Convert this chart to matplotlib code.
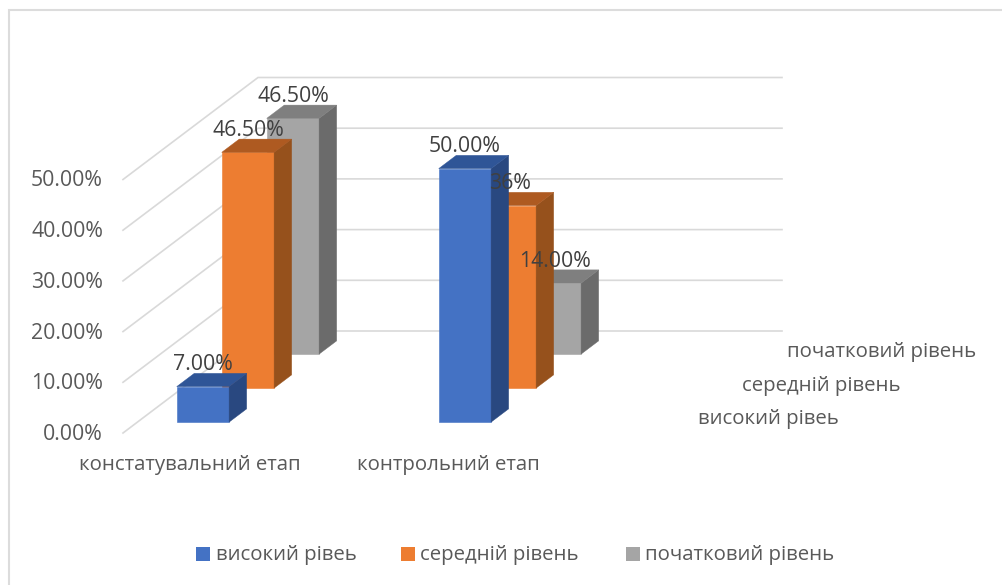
import matplotlib
matplotlib.use('Agg')
import matplotlib.pyplot as plt
from matplotlib.patches import Polygon, Rectangle

plt.rcParams['font.family'] = ['Open Sans', 'DejaVu Sans']

stages = ['констатувальний етап', 'контрольний етап']
levels = ['високий рівеь', 'середній рівень', 'початковий рівень']
values = {
    'високий рівеь': [7.0, 50.0],
    'середній рівень': [46.5, 36.0],
    'початковий рівень': [46.5, 14.0],
}
bar_labels = {
    'високий рівеь': ['7.00%', '50.00%'],
    'середній рівень': ['46.50%', '36%'],
    'початковий рівень': ['46.50%', '14.00%'],
}
y_ticks = [0, 10, 20, 30, 40, 50]

# front, side, top shades for each series
shades = [
    ('#4472C4', '#294880', '#2F5597'),
    ('#ED7D31', '#96511C', '#AE5A21'),
    ('#A5A5A5', '#6B6B6B', '#7F7F7F'),
]
TEXT = '#595959'
LABEL = '#404040'
GRID = '#D9D9D9'

# oblique projection of the chart box, in pixels
X0, Y0 = 123, 433
CAT_W = 262
PX_PER_PCT = 5.07
DEPTH_X, DEPTH_Y = 45, 34
BAR_X, BAR_W = 0.15, 0.2
BAR_Z, BAR_D = 0.32, 0.39
FONT = 15.3
FONT_NAMES = 14.7


def project(x, v, z):
    return X0 + CAT_W * x + DEPTH_X * z, Y0 - PX_PER_PCT * v - DEPTH_Y * z


def draw_bar(ax, x, v, z, colors, order):
    front, side, top = colors
    x1 = x + BAR_W
    z1 = z + BAR_D
    ax.add_patch(Polygon([project(x, 0, z), project(x1, 0, z), project(x1, v, z), project(x, v, z)],
                         fc=front, ec=front, lw=0.4, zorder=order))
    ax.add_patch(Polygon([project(x1, 0, z), project(x1, 0, z1), project(x1, v, z1), project(x1, v, z)],
                         fc=side, ec=side, lw=0.3, zorder=order))
    ax.add_patch(Polygon([project(x, v, z), project(x1, v, z), project(x1, v, z1), project(x, v, z1)],
                         fc=top, ec=top, lw=0.3, zorder=order))


fig = plt.figure(figsize=(10.02, 5.85), dpi=100)
ax = fig.add_axes([0, 0, 1, 1])
ax.set_xlim(0, 1002)
ax.set_ylim(585, 0)
ax.axis('off')

# chart frame, only top and left edges are in view
ax.plot([9, 9, 1002], [585, 10, 10], color='#DCDCDC', lw=1.5, solid_joinstyle='miter', zorder=1)

# gridlines: side wall diagonal, then back wall
n_levels = len(levels)
for t in y_ticks:
    pts = [project(0, t, 0), project(0, t, n_levels), project(2, t, n_levels)]
    ax.plot([p[0] for p in pts], [p[1] for p in pts], color=GRID, lw=1.2,
            solid_joinstyle='miter', zorder=1)
    px, py = project(0, t, 0)
    ax.text(px - 20, py + 1.5, f'{t:.2f}%', ha='right', va='center', fontsize=FONT, color=TEXT)

# back series first so nearer bars overlap them
for k in reversed(range(n_levels)):
    name = levels[k]
    z = k + BAR_Z
    for i in range(len(stages)):
        draw_bar(ax, i + BAR_X, values[name][i], z, shades[k], 2 + n_levels - k)

# value labels sit over the front face of each bar
for k, name in enumerate(levels):
    z = k + BAR_Z
    for i in range(len(stages)):
        px, py = project(i + BAR_X + BAR_W / 2, values[name][i], z)
        ax.text(px, py - 22, bar_labels[name][i], ha='center', va='center', fontsize=FONT,
                color=LABEL, zorder=10)

# category labels
ax.text(190, 465, stages[0], ha='center', va='center', fontsize=FONT_NAMES, color=TEXT)
ax.text(448, 465, stages[1], ha='center', va='center', fontsize=FONT_NAMES, color=TEXT)

# series labels along the depth axis
for k, name in enumerate(levels):
    ax.text(698 + 44.5 * k, 419 - 33.5 * k, name, ha='left', va='center', fontsize=FONT_NAMES, color=TEXT)

# legend
for k, (sx, tx) in enumerate(zip([196, 401, 626], [216, 420, 645])):
    ax.add_patch(Rectangle((sx, 547), 14, 14, fc=shades[k][0], ec='none'))
    ax.text(tx, 555, levels[k], ha='left', va='center', fontsize=FONT_NAMES, color=TEXT)

fig.savefig('out.png', dpi=100)
